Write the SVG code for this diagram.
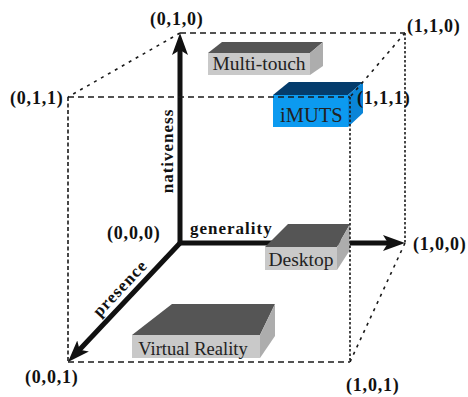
<svg xmlns="http://www.w3.org/2000/svg" width="468" height="397" viewBox="0 0 468 397">
<style>
.axis{fill:none;stroke:#111;stroke-width:5;stroke-linejoin:miter}
.edge{fill:none;stroke:#1a1a1a;stroke-width:1.6}
.dash{stroke-dasharray:6 4}
.dot{stroke-dasharray:2.5 2}
.sparse{stroke-dasharray:3 5}
.fine{stroke-dasharray:4 2.5}
.gfront{fill:#c9c9c9}.gtop{fill:#555}.gside{fill:#adadad}
.bfront{fill:#0c9af0}.btop{fill:#043c6c}.bside{fill:#0a85d8}
.btext{font-family:"Liberation Serif","Times New Roman",serif;fill:#222}
.lab{font-family:"Liberation Serif","Times New Roman",serif;font-weight:bold;font-size:18px;letter-spacing:0.8px;fill:#111}
.alab{font-family:"Liberation Serif","Times New Roman",serif;font-weight:bold;font-size:17px;letter-spacing:1px;fill:#111}
</style>
<defs>
<marker id="arrow" markerUnits="userSpaceOnUse" markerWidth="24" markerHeight="18" refX="10" refY="8" orient="auto-start-reverse" viewBox="0 0 24 16">
<path d="M0,0 L22,8 L0,16 L5,8 Z" fill="#111"/>
</marker>
</defs>
<rect width="468" height="397" fill="#fff"/>

<g id="axes" class="connectors">
<path class="axis" d="M180,45 L180,243 L393,243" marker-start="url(#arrow)" marker-end="url(#arrow)"/>
<path class="axis" d="M181,242 L76.2,353.3" marker-end="url(#arrow)"/>
</g>

<g id="node-multitouch">
<polygon class="gtop" points="208,53 222,42 323,42 310,53"/>
<polygon class="gside" points="310,53 323,42 323,66 310,75"/>
<rect class="gfront" x="208" y="53" width="102" height="22"/>
<text class="btext" x="259" y="70" font-size="19.5" text-anchor="middle">Multi-touch</text>
</g>

<g id="node-imuts">
<polygon class="btop" points="273,95 289,82 363,82 348,95"/>
<polygon class="bside" points="348,95 363,82 363,113 348,127"/>
<rect class="bfront" x="273" y="95" width="75" height="32"/>
<text class="btext" x="280" y="122" font-size="20.5">iMUTS</text>
</g>

<g id="node-desktop">
<polygon class="gtop" points="265,247 288,224 350,224 337,247"/>
<polygon class="gside" points="337,247 350,224 350,250 337,270"/>
<rect class="gfront" x="265" y="247" width="72" height="23"/>
<text class="btext" x="301" y="266" font-size="19.5" text-anchor="middle">Desktop</text>
</g>

<g id="node-vr">
<polygon class="gtop" points="132,335 172,304 275,304 260,335"/>
<polygon class="gside" points="260,335 275,304 275,336 260,358"/>
<rect class="gfront" x="132" y="335" width="128" height="23"/>
<text class="btext" x="193" y="355" font-size="18.5" text-anchor="middle">Virtual Reality</text>
</g>

<g id="cube-edges" class="connectors">
<line class="edge dash" x1="180" y1="33" x2="405" y2="33"/>
<line class="edge sparse" x1="180" y1="33" x2="68" y2="97"/>
<line class="edge dash" x1="68" y1="97" x2="350" y2="97"/>
<line class="edge sparse" x1="405" y1="33" x2="350" y2="97"/>
<line class="edge fine" x1="68" y1="97" x2="68" y2="362"/>
<line class="edge dot" x1="405" y1="33" x2="405" y2="243"/>
<line class="edge dot" x1="350" y1="97" x2="350" y2="362"/>
<line class="edge dash" x1="68" y1="362" x2="350" y2="362" stroke="#555"/>
<line class="edge sparse" x1="405" y1="243" x2="350" y2="362"/>
</g>

<g id="axis-labels">
<text class="alab" transform="translate(173,151) rotate(-90)" text-anchor="middle">nativeness</text>
<text class="alab" x="190" y="234">generality</text>
<text class="alab" transform="translate(124,292) rotate(-46.7)" text-anchor="middle">presence</text>
</g>

<g id="corner-labels">
<text class="lab" id="c010" x="150" y="25">(0,1,0)</text>
<text class="lab" id="c011" x="10" y="104">(0,1,1)</text>
<text class="lab" id="c110" x="407" y="32">(1,1,0)</text>
<text class="lab" id="c111" x="357" y="104">(1,1,1)</text>
<text class="lab" id="c000" x="107" y="239">(0,0,0)</text>
<text class="lab" id="c100" x="413" y="250">(1,0,0)</text>
<text class="lab" id="c001" x="25" y="383">(0,0,1)</text>
<text class="lab" id="c101" x="346" y="391">(1,0,1)</text>
</g>
</svg>
